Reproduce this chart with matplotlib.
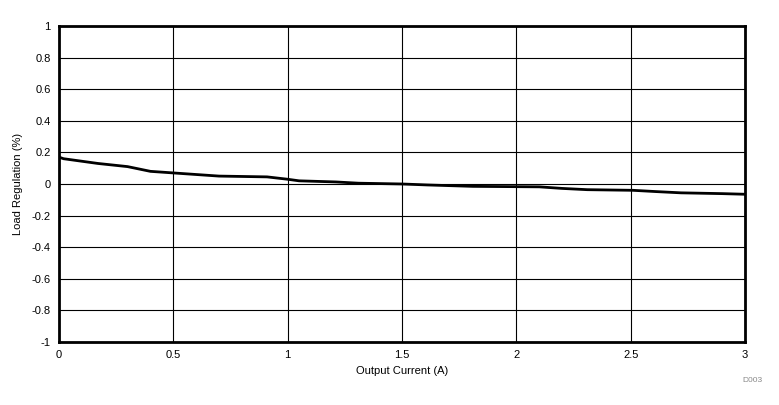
import matplotlib
matplotlib.use('Agg')
import matplotlib.pyplot as plt

# Load regulation vs output current
corrente = [0.0, 0.02, 0.17, 0.30, 0.40, 0.50, 0.70, 0.91, 1.00, 1.05, 1.21, 1.31,
            1.50, 1.61, 1.81, 2.10, 2.20, 2.31, 2.51, 2.61, 2.72, 2.90, 3.00]
regulacao = [0.17, 0.16, 0.13, 0.11, 0.08, 0.07, 0.05, 0.045, 0.03, 0.02, 0.013, 0.005,
             0.0, -0.006, -0.015, -0.018, -0.028, -0.036, -0.04, -0.048, -0.056, -0.061, -0.065]

xticks = [0, 0.5, 1, 1.5, 2, 2.5, 3]
xticklabels = ['0', '0.5', '1', '1.5', '2', '2.5', '3']
yticks = [-1, -0.8, -0.6, -0.4, -0.2, 0, 0.2, 0.4, 0.6, 0.8, 1]
yticklabels = ['-1', '-0.8', '-0.6', '-0.4', '-0.2', '0', '0.2', '0.4', '0.6', '0.8', '1']

plt.rcParams['font.family'] = ['Liberation Sans', 'DejaVu Sans']

fig = plt.figure(figsize=(7.79, 4.05), dpi=100)
ax = fig.add_axes([0.0757, 0.1556, 0.8807, 0.7802])

ax.plot(corrente, regulacao, color='black', linewidth=2.0)

ax.set_xlim(0, 3)
ax.set_ylim(-1, 1)
ax.set_xticks(xticks)
ax.set_xticklabels(xticklabels)
ax.set_yticks(yticks)
ax.set_yticklabels(yticklabels)
ax.tick_params(length=0, labelsize=8, pad=6)
ax.grid(True, color='black', linewidth=0.8)
for s in ax.spines.values():
    s.set_linewidth(2)

ax.set_xlabel('Output Current (A)', fontsize=8, labelpad=4)
ax.set_ylabel('Load Regulation (%)', fontsize=8, labelpad=6)

fig.text(0.979, 0.057, 'D003', fontsize=6, color='#888888', ha='right')

fig.savefig('out.png', dpi=100)
